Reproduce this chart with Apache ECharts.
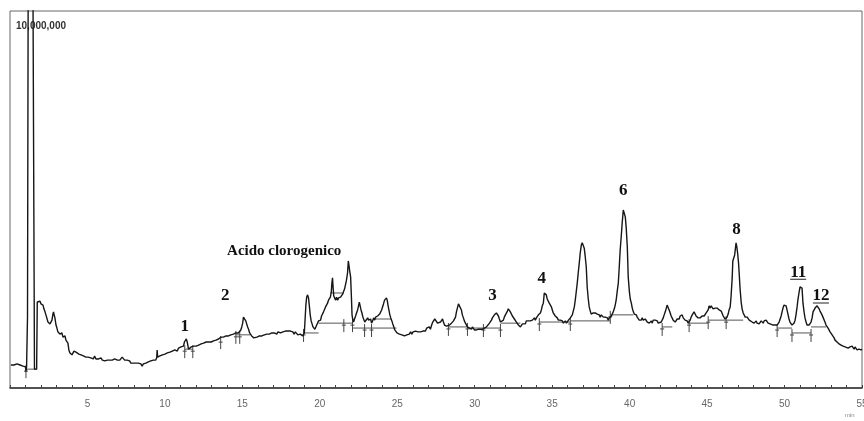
<!DOCTYPE html>
<html>
<head>
<meta charset="utf-8">
<script src="https://cdn.jsdelivr.net/npm/echarts@6/dist/echarts.min.js"></script>
<style>
  html, body { margin: 0; padding: 0; background: #fff; overflow: hidden; width: 100%; height: 100%; }
  #chart { position: absolute; left: 0; top: 0; width: 864px; height: 421px; }
</style>
</head>
<body>
<div id="chart"></div>
<script>
// Chromatogram: [retention time (min), detector signal (x10^5 counts)]
const chromatogram = [
  [0.06,6.1],[0.16,6.6],[0.26,6.1],[0.36,5.8],[0.45,6.4],[0.55,6.9],[0.65,6.1],[0.74,6.4],[0.84,5.8],[0.94,6.1],[1.00,5.6],[1.03,4.4],[1.07,5.6],[1.12,5.6],[1.13,18.8],[1.17,18.8],[1.19,140],[1.45,140],[1.58,5.0],[1.72,5.0],[1.76,22.8],
  [1.81,23.3],[1.87,22.5],[1.94,23.0],[2.00,22.3],[2.07,22.5],[2.13,22.0],[2.19,21.0],[2.26,20.2],[2.32,19.4],[2.38,19.9],[2.45,17.5],[2.52,17.8],[2.58,17.0],[2.64,17.5],[2.71,18.0],[2.77,19.6],[2.81,20.2],[2.85,19.4],[2.90,18.6],[2.97,16.7],[3.03,15.9],[3.09,14.9],[3.16,15.4],[3.22,14.3],[3.29,14.1],[3.35,14.6],[3.42,13.5],[3.48,13.5],[3.55,13.8],[3.61,12.7],[3.68,12.2],[3.74,11.9],[3.80,10.1],[3.87,9.3],[3.93,9.5],[4.00,8.8],[4.06,9.0],[4.13,9.8],[4.19,10.3],[4.26,9.5],[4.32,9.8],[4.38,9.8],[4.45,9.0],[4.51,9.3],[4.58,8.8],[4.66,9.0],[4.74,8.5],[4.82,8.8],[4.90,8.2],[4.97,8.5],
  [5.03,8.2],[5.12,8.5],[5.22,8.0],[5.30,8.2],[5.38,7.7],[5.46,8.5],[5.55,7.7],[5.63,8.0],[5.72,7.7],[5.80,8.2],[5.87,8.0],[5.96,7.4],[6.04,7.7],[6.12,7.2],[6.20,7.7],[6.28,7.4],[6.36,6.9],[6.44,7.4],[6.52,7.2],[6.60,7.4],[6.68,7.2],[6.76,7.7],[6.84,7.2],[6.93,7.4],[7.01,7.7],[7.09,7.4],[7.16,7.7],[7.24,8.2],[7.32,8.0],[7.40,7.4],[7.48,7.2],[7.56,7.4],[7.64,6.9],[7.72,7.2],[7.80,6.6],[7.88,6.9],[7.96,6.6],[8.04,6.1],[8.12,6.6],[8.20,6.4],[8.28,6.6],[8.36,6.1],[8.45,6.4],[8.53,5.8],[8.61,6.4],[8.69,6.1],[8.77,6.6],[8.85,6.4],[8.93,6.9],[9.01,6.6],[9.09,7.2],[9.17,6.9],[9.25,7.4],[9.33,7.7],[9.41,7.4],[9.47,8.0],[9.50,10.1],[9.53,8.2],[9.60,8.0],[9.68,8.5],[9.76,8.2],[9.84,8.8],[9.92,8.5],
  [10.00,9.0],[10.08,8.8],[10.16,9.3],[10.24,8.8],[10.32,9.5],[10.40,9.3],[10.48,9.8],[10.56,9.5],[10.64,10.1],[10.72,10.3],[10.80,9.8],[10.88,10.6],[10.96,10.3],[11.04,10.9],[11.12,11.4],[11.20,11.1],[11.26,12.2],[11.32,12.7],[11.38,13.0],[11.44,12.2],[11.48,11.4],[11.52,10.3],[11.58,10.6],[11.64,10.1],[11.70,10.9],[11.78,10.6],[11.86,11.1],[11.94,10.6],[12.02,11.1],[12.10,10.9],[12.18,11.4],[12.26,11.1],[12.34,11.7],[12.42,11.4],[12.50,11.9],[12.58,11.4],[12.66,12.2],[12.74,11.9],[12.82,12.2],[12.90,12.5],[12.98,12.2],[13.06,12.7],[13.14,12.5],[13.22,12.2],[13.30,12.7],[13.38,12.5],[13.46,13.0],[13.54,12.7],[13.62,13.5],[13.70,13.0],[13.78,13.5],[13.86,13.3],[13.94,13.8],
  [14.02,13.3],[14.10,13.8],[14.18,13.5],[14.26,14.1],[14.34,13.8],[14.42,14.3],[14.50,13.8],[14.58,14.6],[14.66,14.1],[14.74,14.6],[14.82,14.9],[14.90,15.4],[14.96,16.2],[15.02,17.2],[15.07,18.8],[15.11,19.1],[15.16,18.6],[15.22,17.8],[15.28,17.5],[15.34,16.2],[15.40,15.6],[15.47,14.6],[15.54,14.3],[15.60,13.8],[15.67,14.1],[15.74,13.3],[15.80,13.5],[15.86,13.0],[15.94,13.5],[16.02,13.3],[16.10,13.8],[16.18,13.5],[16.26,13.8],[16.34,13.3],[16.42,14.1],[16.50,13.8],[16.58,14.3],[16.66,13.8],[16.74,14.3],[16.82,14.1],[16.90,14.6],[16.98,14.3],[17.06,14.6],[17.14,14.9],[17.22,14.3],[17.30,14.9],[17.38,15.1],[17.46,14.6],[17.54,15.1],[17.62,14.9],[17.70,15.4],[17.78,15.1],[17.86,15.6],[17.94,15.1],
  [18.02,14.6],[18.10,15.1],[18.18,14.6],[18.26,14.9],[18.34,14.3],[18.42,14.9],[18.50,14.6],[18.58,14.1],[18.66,14.6],[18.74,14.3],[18.82,14.6],[18.90,13.8],[18.95,13.3],[19.00,14.6],[19.04,17.5],[19.10,22.0],[19.15,24.1],[19.21,24.7],[19.27,23.9],[19.32,22.0],[19.38,19.4],[19.44,17.8],[19.50,17.0],[19.56,16.2],[19.62,16.4],[19.68,15.6],[19.74,15.9],[19.80,16.7],[19.86,17.2],[19.92,17.8],[19.98,18.3],
  [20.05,18.0],[20.11,19.1],[20.18,19.4],[20.24,20.2],[20.30,19.9],[20.37,21.5],[20.43,21.2],[20.50,22.5],[20.56,23.3],[20.62,22.8],[20.68,24.1],[20.74,25.4],[20.78,27.9],[20.82,29.2],[20.86,26.5],[20.90,24.4],[20.96,24.9],[21.02,23.3],[21.08,24.1],[21.15,23.3],[21.21,23.9],[21.27,23.6],[21.34,24.1],[21.40,24.4],[21.47,24.9],[21.53,25.4],[21.60,26.3],[21.66,26.8],[21.72,28.6],[21.79,30.5],[21.84,33.7],[21.88,32.6],[21.93,31.0],[21.99,29.4],[22.04,24.1],[22.08,19.4],[22.12,18.3],[22.18,17.5],[22.24,18.3],[22.31,19.1],[22.37,19.9],[22.44,20.7],[22.50,21.8],[22.55,22.8],[22.60,22.3],[22.66,20.7],[22.72,19.9],[22.78,18.8],[22.84,18.3],[22.90,17.5],[22.96,18.0],
  [23.02,17.2],[23.09,18.6],[23.15,18.0],[23.22,17.5],[23.28,18.3],[23.34,17.2],[23.41,17.8],[23.47,18.6],[23.54,18.0],[23.60,18.8],[23.66,18.3],[23.73,19.1],[23.79,18.8],[23.86,19.6],[23.92,19.9],[23.99,20.7],[24.05,21.5],[24.11,22.3],[24.18,23.3],[24.24,23.3],[24.30,23.9],[24.35,23.3],[24.40,22.0],[24.46,20.7],[24.52,19.4],[24.58,18.6],[24.65,17.8],[24.71,17.0],[24.78,16.2],[24.84,15.4],[24.91,15.1],[24.98,14.6],
  [25.06,14.9],[25.14,14.3],[25.22,14.6],[25.30,14.1],[25.38,14.6],[25.46,13.8],[25.54,14.3],[25.62,14.1],[25.70,14.6],[25.78,14.3],[25.86,14.9],[25.94,14.3],[26.02,14.9],[26.10,14.6],[26.18,15.1],[26.26,14.6],[26.34,14.9],[26.42,15.4],[26.50,14.9],[26.58,15.4],[26.66,15.1],[26.74,15.6],[26.82,15.1],[26.90,15.9],[26.98,15.4],[27.06,16.2],[27.14,15.6],[27.22,16.7],[27.29,17.5],[27.35,17.0],[27.42,18.3],[27.48,18.6],[27.54,17.8],[27.60,17.2],[27.66,17.5],[27.72,16.7],[27.79,17.5],[27.86,18.0],[27.92,18.3],[27.98,17.5],
  [28.05,16.7],[28.11,17.2],[28.18,16.4],[28.24,16.7],[28.30,16.2],[28.37,16.7],[28.43,16.4],[28.50,17.2],[28.56,17.0],[28.63,17.8],[28.70,18.3],[28.76,18.8],[28.82,20.2],[28.88,21.2],[28.95,22.3],[29.01,22.5],[29.07,21.8],[29.14,20.7],[29.20,19.4],[29.27,18.6],[29.33,17.8],[29.40,17.2],[29.46,16.7],[29.53,16.2],[29.59,16.4],[29.66,15.9],[29.72,16.2],[29.79,15.6],[29.85,16.2],[29.92,15.9],[29.98,15.4],
  [30.05,15.9],[30.11,15.4],[30.18,15.9],[30.24,15.6],[30.31,15.1],[30.37,15.6],[30.44,15.1],[30.50,15.6],[30.56,15.4],[30.63,15.9],[30.69,15.6],[30.76,16.2],[30.82,16.2],[30.88,16.7],[30.95,17.2],[31.01,17.5],[31.08,18.0],[31.14,18.6],[31.21,18.8],[31.27,19.4],[31.34,19.9],[31.40,19.9],[31.46,19.4],[31.53,19.1],[31.59,18.3],[31.66,17.5],[31.72,17.5],[31.78,17.8],[31.85,18.0],[31.91,18.8],[31.98,19.4],
  [32.04,19.6],[32.11,20.4],[32.17,21.0],[32.24,20.7],[32.30,20.2],[32.37,19.9],[32.43,19.1],[32.50,18.6],[32.56,18.3],[32.63,17.8],[32.69,17.5],[32.75,17.2],[32.82,16.7],[32.88,16.4],[32.95,16.2],[33.01,16.7],[33.08,17.0],[33.14,17.2],[33.20,17.5],[33.27,17.0],[33.33,17.8],[33.40,17.5],[33.46,17.8],[33.53,18.3],[33.59,17.8],[33.66,18.3],[33.72,18.0],[33.78,18.3],[33.85,18.6],[33.91,18.0],[33.98,18.6],
  [34.04,18.6],[34.11,19.4],[34.17,19.1],[34.24,19.9],[34.30,20.7],[34.36,21.8],[34.43,22.5],[34.49,25.2],[34.55,24.9],[34.62,24.7],[34.68,23.6],[34.75,23.3],[34.81,22.5],[34.88,22.0],[34.95,21.5],[35.01,20.7],[35.07,19.9],[35.14,19.4],[35.20,19.1],[35.27,18.6],[35.33,18.6],[35.40,18.0],[35.46,18.3],[35.53,18.0],[35.59,17.5],[35.66,17.8],[35.72,17.2],[35.79,17.5],[35.85,17.8],[35.92,17.2],[35.98,17.5],
  [36.05,18.0],[36.11,18.3],[36.17,18.6],[36.24,19.1],[36.30,19.4],[36.36,19.9],[36.43,21.5],[36.49,23.3],[36.55,25.4],[36.62,27.9],[36.68,30.5],[36.75,33.2],[36.81,35.8],[36.88,37.9],[36.94,38.5],[37.00,38.0],[37.07,37.1],[37.13,35.0],[37.20,32.1],[37.26,26.8],[37.33,23.6],[37.39,21.5],[37.46,20.4],[37.52,19.6],[37.59,19.4],[37.65,19.9],[37.72,19.6],[37.78,19.9],[37.85,19.4],[37.91,19.6],[37.97,19.1],
  [38.04,19.4],[38.10,18.8],[38.17,19.4],[38.23,19.4],[38.30,18.8],[38.36,19.1],[38.43,18.8],[38.49,18.3],[38.56,18.6],[38.62,18.0],[38.69,18.6],[38.75,18.8],[38.82,19.1],[38.88,19.4],[38.94,20.2],[39.01,21.0],[39.07,22.0],[39.14,23.6],[39.20,25.7],[39.27,27.9],[39.33,32.1],[39.39,36.6],[39.46,40.3],[39.52,43.8],[39.59,47.2],[39.65,46.7],[39.72,45.4],[39.78,42.4],[39.85,37.4],[39.91,29.4],[39.98,25.7],
  [40.04,23.6],[40.11,22.5],[40.17,21.2],[40.24,20.2],[40.30,19.6],[40.37,19.1],[40.43,19.4],[40.49,18.8],[40.56,18.3],[40.62,18.0],[40.68,17.5],[40.75,18.0],[40.81,18.6],[40.88,18.0],[40.94,18.3],[41.01,18.3],[41.07,17.8],[41.14,17.5],[41.20,18.0],[41.27,17.2],[41.33,17.5],[41.40,17.8],[41.46,17.2],[41.52,18.0],[41.59,17.5],[41.65,18.0],[41.72,17.5],[41.78,17.8],[41.85,17.2],[41.91,17.5],[41.97,17.2],
  [42.04,17.5],[42.10,17.0],[42.17,18.6],[42.23,19.4],[42.30,20.2],[42.36,20.7],[42.42,22.0],[42.49,21.5],[42.55,20.7],[42.62,19.9],[42.68,19.1],[42.75,18.8],[42.81,18.0],[42.88,17.8],[42.94,17.5],[43.01,17.8],[43.07,18.3],[43.13,18.6],[43.20,18.3],[43.26,19.1],[43.33,18.8],[43.39,19.4],[43.46,18.6],[43.52,18.3],[43.58,18.0],[43.65,17.5],[43.71,17.8],[43.78,17.2],[43.84,17.2],[43.91,18.0],[43.97,18.8],
  [44.04,19.4],[44.10,19.9],[44.16,20.2],[44.23,19.9],[44.29,19.1],[44.36,18.8],[44.42,18.6],[44.49,18.3],[44.55,18.6],[44.62,18.3],[44.68,19.1],[44.75,19.4],[44.81,19.1],[44.88,19.6],[44.94,19.9],[45.00,20.2],[45.07,20.7],[45.13,21.8],[45.20,21.2],[45.26,21.8],[45.33,21.5],[45.39,21.0],[45.46,21.5],[45.52,21.2],[45.59,20.7],[45.65,21.2],[45.71,21.5],[45.78,20.7],[45.84,20.2],[45.91,20.4],[45.97,19.9],
  [46.04,19.1],[46.10,18.6],[46.16,18.3],[46.23,18.6],[46.29,18.8],[46.36,19.6],[46.42,20.7],[46.49,21.5],[46.55,24.4],[46.62,29.2],[46.66,33.7],[46.72,34.2],[46.78,35.3],[46.82,35.0],[46.87,38.5],[46.92,37.4],[46.97,35.8],[47.03,33.2],[47.07,30.5],[47.13,26.3],[47.20,22.8],[47.26,21.0],[47.33,19.9],[47.39,19.4],[47.46,18.8],[47.52,18.6],[47.59,18.8],[47.65,18.3],[47.72,18.0],[47.78,18.3],[47.84,17.8],[47.91,17.5],[47.97,17.8],
  [48.04,17.2],[48.10,17.5],[48.17,17.8],[48.23,17.2],[48.30,17.5],[48.36,17.0],[48.42,17.5],[48.49,17.8],[48.55,17.5],[48.62,17.2],[48.68,17.8],[48.75,17.5],[48.81,18.0],[48.87,17.8],[48.94,17.2],[49.00,17.5],[49.07,17.0],[49.13,17.5],[49.19,17.2],[49.26,16.7],[49.32,17.2],[49.39,16.7],[49.45,17.0],[49.52,16.7],[49.58,17.2],[49.65,17.5],[49.71,18.0],[49.78,19.1],[49.84,20.2],[49.90,21.2],[49.97,22.0],
  [50.03,22.3],[50.10,21.8],[50.16,20.7],[50.23,19.4],[50.29,18.3],[50.35,17.5],[50.42,17.0],[50.48,16.7],[50.55,16.7],[50.61,17.2],[50.68,18.0],[50.74,19.4],[50.81,21.5],[50.87,23.6],[50.94,25.4],[51.00,26.8],[51.06,26.8],[51.13,26.5],[51.19,22.5],[51.26,20.2],[51.32,18.6],[51.39,17.5],[51.45,16.7],[51.52,16.2],[51.58,16.7],[51.65,17.0],[51.71,17.5],[51.78,18.6],[51.84,20.2],[51.91,20.7],[51.97,21.2],
  [52.04,21.5],[52.10,21.8],[52.16,21.5],[52.23,21.0],[52.29,20.4],[52.36,19.9],[52.42,19.4],[52.48,18.8],[52.55,18.3],[52.61,17.5],[52.68,16.7],[52.74,16.2],[52.81,15.9],[52.87,15.4],[52.94,14.9],[53.00,14.6],[53.07,14.1],[53.13,13.8],[53.20,13.3],[53.26,12.7],[53.33,12.5],[53.39,12.2],[53.46,11.9],[53.52,11.7],[53.59,11.9],[53.65,11.4],[53.71,11.4],[53.78,11.1],[53.84,11.4],[53.91,10.9],[53.97,11.1],
  [54.03,11.1],[54.10,10.6],[54.16,11.1],[54.23,10.9],[54.29,10.6],[54.36,11.1],[54.42,10.9],[54.49,10.3],[54.55,10.9],[54.62,10.6],[54.68,10.1],[54.75,10.6],[54.81,10.3],[54.87,10.6],[54.94,10.1],[55.00,10.3]
];

// Integration baselines: [start (min), end (min), signal level]
const integrationBaselines = [
  [1.03,1.74,5.0],[11.28,11.80,10.3],[14.58,15.50,14.1],[18.95,19.92,14.6],[19.92,22.11,17.2],[20.70,21.55,25.2],
  [22.11,24.95,15.9],[23.50,24.60,18.3],[28.30,29.53,16.2],[29.53,31.66,15.9],[31.66,32.95,17.2],[34.17,36.17,17.5],
  [36.17,38.75,17.8],[38.75,40.24,19.4],[42.10,42.75,16.2],[43.84,45.07,17.2],[45.07,46.23,18.0],[46.23,47.33,18.0],
  [49.52,50.48,15.9],[50.48,51.71,14.6],[51.71,52.68,16.2]
];

// Peak start/end event marks: [time (min), baseline level]
const peakEvents = [
  [1.03,5.0],[11.28,10.3],[11.80,10.3],[13.60,12.7],[14.58,14.1],[14.83,14.1],[18.95,14.6],[21.55,17.2],[22.11,17.2],
  [22.89,15.9],[23.34,15.9],[28.30,16.2],[29.53,16.2],[30.56,15.9],[31.66,15.9],[34.17,17.5],[36.17,17.5],[38.75,19.4],
  [42.10,16.2],[43.84,17.2],[45.07,18.0],[46.23,18.0],[49.52,15.9],[50.48,14.6],[51.71,14.6]
];

// Peak identifications and where their labels sit (time, signal)
const peakNames = ['Acido clorogenico', '1', '2', '3', '4', '6', '8', '11', '12'];
const peakLabelAnchors = [[17.70,36.3],[11.28,16.4],[13.90,24.4],[31.14,24.4],[34.33,28.9],[39.59,52.3],[46.90,41.9],[50.88,30.7],[52.35,24.4]];
const underlinedNames = ['11', '12'];

const fullScaleText = '10,000,000';
const xTicks = { min: 0, max: 55, step: 5 };

const chart = echarts.init(document.getElementById('chart'), null, { renderer: 'canvas', width: 864, height: 421 });

const labelData = peakNames.map((n, i) => [peakLabelAnchors[i][0], peakLabelAnchors[i][1], n]);

chart.setOption({
  animation: false,
  backgroundColor: '#fff',
  grid: {
    left: 10, right: 2, top: 11, bottom: 33,
    outerBoundsMode: 'none', containLabel: false,
    show: true, borderColor: '#666', borderWidth: 1
  },
  xAxis: {
    type: 'value', min: xTicks.min, max: xTicks.max, interval: xTicks.step,
    axisLine: { show: true, lineStyle: { color: '#333', width: 1.6 } },
    axisTick: { show: true, inside: true, length: 3, lineStyle: { color: '#444' } },
    minorTick: { show: true, splitNumber: 5, length: 3, lineStyle: { color: '#444' } },
    splitLine: { show: false },
    axisLabel: {
      color: '#666', fontSize: 10, fontFamily: 'Liberation Sans', margin: 11,
      showMinLabel: false, hideOverlap: false,
      formatter: v => (v === 0 ? '' : String(v))
    }
  },
  yAxis: {
    type: 'value', min: 0, max: 100,
    axisLine: { show: false }, axisTick: { show: false }, axisLabel: { show: false }, splitLine: { show: false }
  },
  graphic: [{
    type: 'text', left: 16, top: 21, z: 1,
    style: { text: fullScaleText, font: 'bold 10px "Liberation Sans"', fill: '#333' }
  }, {
    type: 'text', left: 845, top: 412,
    style: { text: 'min', font: '6px "Liberation Sans"', fill: '#888' }
  }],
  series: [
    {
      type: 'line', data: chromatogram, showSymbol: false, clip: true, z: 5,
      lineStyle: { color: '#161616', width: 1.4 }
    },
    {
      type: 'custom', data: integrationBaselines, z: 4, clip: true,
      encode: { x: [0, 1], y: 2 },
      renderItem: (params, api) => {
        const a = api.coord([api.value(0), api.value(2)]);
        const b = api.coord([api.value(1), api.value(2)]);
        return { type: 'line', shape: { x1: a[0], y1: a[1], x2: b[0], y2: b[1] }, style: { stroke: '#555', lineWidth: 1 } };
      }
    },
    {
      type: 'custom', data: peakEvents, z: 4,
      encode: { x: 0, y: 1 },
      renderItem: (params, api) => {
        const p = api.coord([api.value(0), api.value(1)]);
        return {
          type: 'group', children: [
            { type: 'line', shape: { x1: p[0], y1: p[1] - 4, x2: p[0], y2: p[1] + 9 }, style: { stroke: '#444', lineWidth: 1 } },
            { type: 'line', shape: { x1: p[0] - 2, y1: p[1] + 2, x2: p[0] + 2, y2: p[1] + 2 }, style: { stroke: '#444', lineWidth: 1 } }
          ]
        };
      }
    },
    {
      type: 'custom', data: labelData, z: 6,
      encode: { x: 0, y: 1 },
      renderItem: (params, api) => {
        const name = peakNames[params.dataIndex];
        const p = api.coord([api.value(0), api.value(1)]);
        const isTitle = name.length > 3;
        const children = [{
          type: 'text', x: p[0], y: p[1],
          style: {
            text: name, align: 'center', verticalAlign: 'middle',
            font: isTitle ? 'bold 15px "Liberation Serif"' : 'bold 17px "Liberation Serif"', fill: '#111'
          }
        }];
        if (underlinedNames.includes(name)) {
          children.push({ type: 'line', shape: { x1: p[0] - 8, y1: p[1] + 7, x2: p[0] + 8, y2: p[1] + 7 }, style: { stroke: '#222', lineWidth: 1 } });
        }
        return { type: 'group', children };
      }
    }
  ]
});
</script>
</body>
</html>
